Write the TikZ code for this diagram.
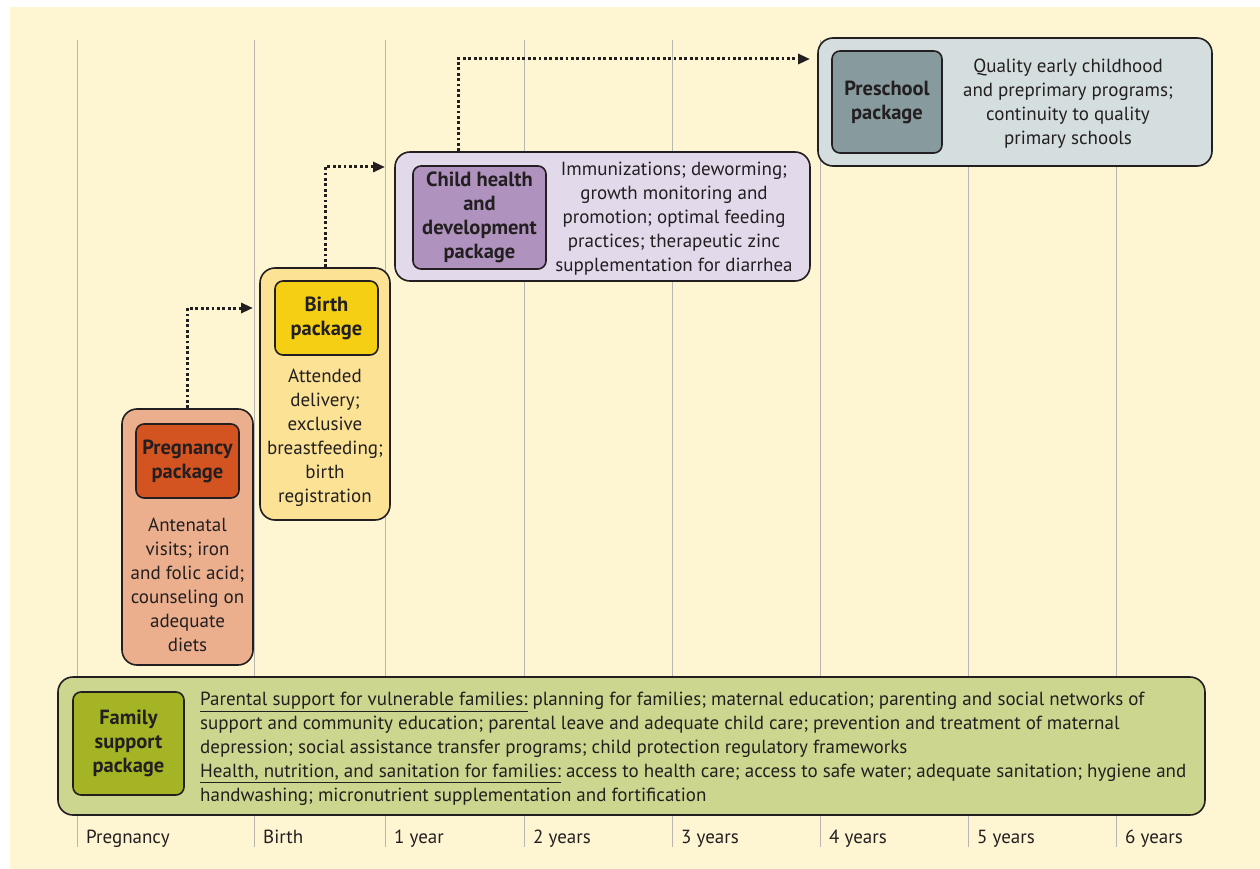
\documentclass[tikz,border=0pt]{standalone}
\usepackage{fontspec}
\setmainfont{PT Sans}
\usetikzlibrary{positioning,arrows.meta}
\definecolor{cream}{HTML}{FEF6D3}
\definecolor{ink}{HTML}{231F20}
\definecolor{gridgray}{HTML}{B8B6AE}
\definecolor{pregout}{HTML}{EBAF8E}
\definecolor{pregin}{HTML}{D35420}
\definecolor{birthout}{HTML}{FBE294}
\definecolor{birthin}{HTML}{F4CF14}
\definecolor{childout}{HTML}{E2D9EA}
\definecolor{childin}{HTML}{AF93BE}
\definecolor{schoolout}{HTML}{D4DEDF}
\definecolor{schoolin}{HTML}{879B9E}
\definecolor{famout}{HTML}{CDD68E}
\definecolor{famin}{HTML}{A5B424}

\begin{document}
\begin{tikzpicture}[
      x=1pt, y=-1pt,
      font=\fontsize{19}{24}\selectfont,
      text=ink,
      pkg/.style={draw=ink, line width=1.6pt, rounded corners=15pt, inner sep=0pt},
      tag/.style={draw=ink, line width=1.6pt, rounded corners=8pt, inner sep=0pt, align=center, font=\fontsize{20.5}{24}\selectfont\bfseries},
      desc/.style={align=center, inner sep=0pt},
      agelabel/.style={anchor=base west, inner sep=0pt},
      axis/.style={draw=gridgray, line width=1pt},
      dotarrow/.style={draw=ink, line width=3pt, dash pattern=on 2.8pt off 2.6pt, -{Triangle[length=12pt,width=10pt]}}
    ]
    \useasboundingbox (0,0) rectangle (1260,869);
    \fill[cream] (10,7) rectangle (1260,869);
    \foreach \x/\lab [count=\i] in {77/Pregnancy,254/Birth,385/1 year,524/2 years,672/3 years,820/4 years,968/5 years,1116/6 years}{
      \draw[axis] (\x,40) -- (\x,847);
      \node[agelabel] (age\i) at (\x+9,843) {\lab};
    }
    \node[pkg, fill=pregout, minimum width=131pt, minimum height=256pt] (preg) at (187.5,537) {};
    \node[tag, fill=pregin, minimum width=103pt, minimum height=74pt] (pregtag) at (187.5,461) {Pregnancy\\package};
    \node[desc] (pregdesc) at (187.5,585) {Antenatal\\visits; iron\\and folic acid;\\counseling on\\adequate\\diets};
    \node[pkg, fill=birthout, minimum width=130pt, minimum height=252pt] (birth) at (325,394) {};
    \node[tag, fill=birthin, minimum width=103pt, minimum height=74pt] (birthtag) at (326.5,318) {Birth\\package};
    \node[desc] (birthdesc) at (325,437.5) {Attended\\delivery;\\exclusive\\breastfeeding;\\birth\\registration};
    \node[pkg, fill=childout, minimum width=415pt, minimum height=129pt] (child) at (602.5,216.5) {};
    \node[tag, fill=childin, minimum width=133pt, minimum height=103pt] (childtag) at (479.5,217.5) {Child health\\and\\development\\package};
    \node[desc] (childdesc) at (674,218.5) {Immunizations; deworming;\\growth monitoring and\\promotion; optimal feeding\\practices; therapeutic zinc\\supplementation for diarrhea};
    \node[pkg, fill=schoolout, minimum width=394pt, minimum height=128pt] (school) at (1015,102) {};
    \node[tag, fill=schoolin, minimum width=110pt, minimum height=102pt] (schooltag) at (887,102) {Preschool\\package};
    \node[desc] (schooldesc) at (1068,104) {Quality early childhood\\and preprimary programs;\\continuity to quality\\primary schools};
    \node[pkg, fill=famout, minimum width=1147pt, minimum height=138pt] (family) at (631.5,746) {};
    \node[tag, fill=famin, minimum width=111pt, minimum height=103pt] (famtag) at (128.5,743.5) {Family\\support\\package};
    \node[desc, align=left, anchor=west] (famdesc) at (200,749) {\underline{Parental support for vulnerable families:} planning for families; maternal education; parenting and social networks of\\
      support and community education; parental leave and adequate child care; prevention and treatment of maternal\\
      depression; social assistance transfer programs; child protection regulatory frameworks\\
      \underline{Health, nutrition, and sanitation for families:} access to health care; access to safe water; adequate sanitation; hygiene and\\
      handwashing; micronutrient supplementation and fortification};
    \coordinate (birthin) at (253,308);
    \coordinate (childin) at (385,167);
    \coordinate (schoolin) at (810,59);
    \draw[dotarrow] (preg.north) |- (birthin);
    \draw[dotarrow] (birth.north) |- (childin);
    \draw[dotarrow] (child.north -| 458,0) |- (schoolin);
  \end{tikzpicture}
\end{document}
